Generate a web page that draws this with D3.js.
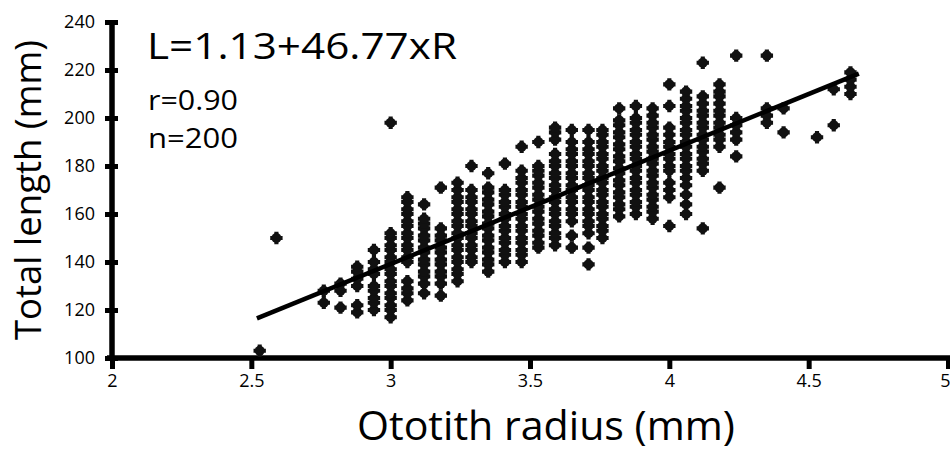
<!DOCTYPE html>
<html>
<head>
<meta charset="utf-8">
<script src="https://cdn.jsdelivr.net/npm/d3@7"></script>
<style>
  body { margin: 0; background: #fff; }
  svg { display: block; }
  text { font-family: "Open Sans", "Noto Sans", sans-serif; fill: #000; }
</style>
</head>
<body>
<svg id="chart" width="950" height="456"></svg>
<script>
// otolith radius of each column (mm)
var radius = [2.53, 2.59, 2.76, 2.82, 2.88, 2.94, 3.00, 3.06, 3.12, 3.18, 3.24, 3.29, 3.35,
  3.41, 3.47, 3.53, 3.59, 3.65, 3.71, 3.76, 3.82, 3.88, 3.94, 4.00, 4.06, 4.12, 4.18,
  4.24, 4.35, 4.41, 4.53, 4.59, 4.65];

// total lengths (mm) read for each radius column
var lengths = [
  [103],
  [150],
  [123, 128],
  [121, 128, 131],
  [119, 122, 130, 133, 136, 138],
  [120, 123, 125, 128, 130, 135, 137, 140, 145],
  [117, 120, 122, 125, 127, 130, 132, 135, 137, 140, 142, 145, 147, 150, 152, 198],
  [124, 127, 129, 132, 140, 142, 145, 147, 150, 152, 155, 157, 160, 162, 165, 167],
  [127, 131, 134, 136, 139, 141, 144, 146, 149, 151, 154, 156, 158, 164],
  [126, 131, 134, 136, 139, 141, 144, 146, 149, 151, 154, 171],
  [132, 135, 137, 140, 142, 145, 147, 150, 152, 155, 157, 160, 162, 165, 167, 170, 173],
  [140, 142, 145, 147, 150, 152, 155, 157, 160, 162, 165, 167, 170, 180],
  [136, 139, 141, 144, 146, 149, 151, 154, 156, 159, 161, 164, 166, 169, 171, 177],
  [140, 143, 145, 148, 150, 153, 155, 158, 160, 163, 165, 168, 170, 181],
  [140, 143, 145, 148, 150, 153, 155, 158, 160, 163, 165, 168, 170, 173, 175, 178, 188],
  [146, 148, 151, 153, 156, 158, 161, 163, 166, 168, 171, 173, 176, 178, 180, 190],
  [147, 150, 152, 155, 157, 160, 162, 165, 167, 170, 172, 175, 177, 180, 182, 185, 191, 194, 196],
  [146, 151, 157, 160, 162, 165, 167, 170, 172, 175, 177, 180, 182, 185, 187, 190, 195],
  [139, 146, 152, 155, 157, 160, 162, 165, 167, 170, 172, 175, 177, 180, 182, 185, 187, 190, 195],
  [150, 153, 155, 158, 160, 163, 165, 168, 170, 173, 175, 178, 180, 183, 185, 188, 190, 193, 195],
  [159, 162, 164, 167, 169, 172, 174, 177, 179, 182, 184, 187, 189, 192, 194, 197, 199, 204],
  [160, 163, 165, 168, 170, 173, 175, 178, 180, 183, 185, 188, 190, 193, 195, 198, 200, 205],
  [158, 161, 163, 166, 168, 171, 173, 176, 178, 181, 183, 186, 188, 191, 193, 196, 198, 201, 204],
  [155, 167, 170, 173, 178, 180, 183, 185, 188, 190, 193, 196, 205, 214],
  [160, 164, 168, 172, 175, 178, 180, 183, 185, 188, 190, 193, 195, 198, 200, 203, 205, 208, 211],
  [154, 178, 181, 183, 186, 188, 191, 193, 196, 198, 201, 203, 206, 209, 223],
  [171, 188, 191, 193, 196, 198, 201, 203, 206, 209, 211, 214],
  [184, 191, 194, 197, 200, 226],
  [198, 201, 204, 226],
  [194, 204],
  [192],
  [197, 212],
  [210, 213, 216, 219]
];

// regression line ends as drawn
var fitRadius = [2.52, 4.68];
var fitLength = [116.5, 218.5];

var xTicks = [2, 2.5, 3, 3.5, 4, 4.5, 5];
var yTicks = [100, 120, 140, 160, 180, 200, 220, 240];

var svg = d3.select("#chart");

var x = d3.scaleLinear().domain([2, 5]).range([112, 948]);
var y = d3.scaleLinear().domain([100, 240]).range([358, 22]);

var points = [];
radius.forEach(function(r, i) {
  lengths[i].forEach(function(l) { points.push({r: r, l: l}); });
});

// axes
var xAxis = svg.append("g")
  .attr("transform", "translate(0," + y(100) + ")")
  .call(d3.axisBottom(x).tickValues(xTicks).tickSize(11).tickSizeOuter(0)
    .tickFormat(function(d) { return d; }));
xAxis.select(".domain").attr("stroke-width", 5.5).attr("d", "M107,0H950");
xAxis.selectAll(".tick line").attr("stroke-width", 5).attr("y1", -2);
xAxis.selectAll(".tick text").attr("y", 16).attr("dy", "0.71em")
  .style("font-size", "18px").style("font-family", "Open Sans");
xAxis.selectAll(".tick text").filter(function(d) { return d === 5; })
  .attr("text-anchor", "end").attr("x", 950 - x(5));

var yAxis = svg.append("g")
  .attr("transform", "translate(" + x(2) + ",0)")
  .call(d3.axisLeft(y).tickValues(yTicks).tickSize(7).tickSizeOuter(0));
yAxis.select(".domain").attr("stroke-width", 5.5).attr("d", "M0," + y(240) + "V" + (y(100) + 2));
yAxis.selectAll(".tick line").attr("stroke-width", 5).attr("x2", -7).attr("x1", 6);
yAxis.selectAll(".tick text").attr("x", -17)
  .style("font-size", "18px").style("font-family", "Open Sans");

// points
var cross = d3.symbol().type(d3.symbolCross).size(85);
var dots = svg.append("g").attr("fill", "#111");
dots.selectAll("path").data(points).enter().append("path")
  .attr("transform", function(d) { return "translate(" + x(d.r) + "," + y(d.l) + ")"; })
  .attr("d", cross);
dots.selectAll("circle").data(points).enter().append("circle")
  .attr("cx", function(d) { return x(d.r); })
  .attr("cy", function(d) { return y(d.l); })
  .attr("r", 5);

// regression line
svg.append("line")
  .attr("x1", x(fitRadius[0])).attr("y1", y(fitLength[0]))
  .attr("x2", x(fitRadius[1])).attr("y2", y(fitLength[1]))
  .attr("stroke", "#000").attr("stroke-width", 4.5);

// labels
svg.append("text").attr("x", 147).attr("y", 59).style("font-size", "37px")
  .attr("textLength", 310).attr("lengthAdjust", "spacingAndGlyphs").text("L=1.13+46.77xR");
svg.append("text").attr("x", 148).attr("y", 110).style("font-size", "28px")
  .attr("textLength", 90).attr("lengthAdjust", "spacingAndGlyphs").text("r=0.90");
svg.append("text").attr("x", 148).attr("y", 148).style("font-size", "28px")
  .attr("textLength", 90).attr("lengthAdjust", "spacingAndGlyphs").text("n=200");

svg.append("text").attr("x", 357).attr("y", 440).style("font-size", "41px")
  .attr("textLength", 378).attr("lengthAdjust", "spacingAndGlyphs").text("Ototith radius (mm)");
svg.append("text").attr("transform", "translate(41,340) rotate(-90)").style("font-size", "37px")
  .attr("textLength", 300).attr("lengthAdjust", "spacingAndGlyphs").text("Total length (mm)");
</script>
</body>
</html>
